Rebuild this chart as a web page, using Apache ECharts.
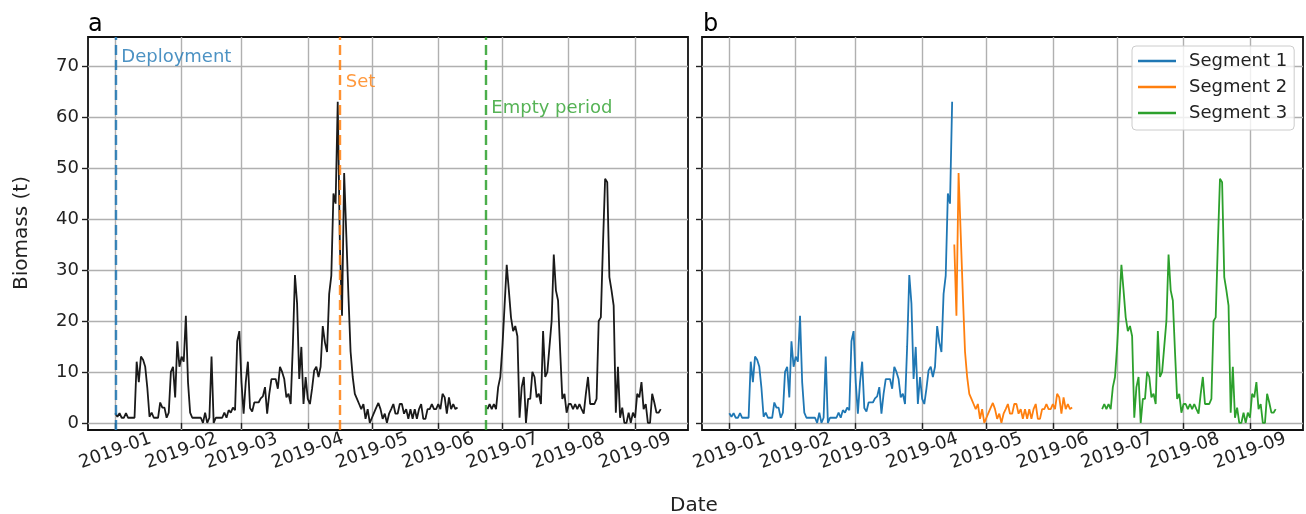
<!DOCTYPE html>
<html><head><meta charset="utf-8">
<script src="https://cdn.jsdelivr.net/npm/echarts@6/dist/echarts.min.js"></script>
<style>html,body{margin:0;padding:0;background:#fff}#c{width:1306px;height:514px}</style>
</head><body><div id="c"></div>
<script>
// ---- data ----
const xTickLabels = ['2019-01','2019-02','2019-03','2019-04','2019-05','2019-06','2019-07','2019-08','2019-09'];
const yTicks = [0,10,20,30,40,50,60,70];
const segmentNames = ['Segment 1','Segment 2','Segment 3'];
const seg1Start = '2019-01-01';
const seg1Values = [
  1.9,1.2,1.9,1,1,1.9,1,1,1,1,
  12,8,13,12.4,11,6.8,1.2,2,1,1,
  1,4,3,3,1,2,10,11,5,16,
  11,13,12,21,8,2,1,1,1,1,
  1,0,2,0,1,13,0,1,1,1,
  1,2,1,2.5,2,3,2.5,16,18,8,
  1.8,8,12,2.9,2.2,4,4,4,4.8,5.2,
  7,1.8,5.7,8.6,8.6,8.6,6.7,11,10,8.6,
  5,5.7,3.7,15,29,23.4,8.6,14.9,3.7,9,
  4.7,3.7,6.7,10.3,11,9,11,19,15.8,13.9,
  25.3,28.9,45,43,63
];
const seg2Start = '2019-04-16';
const seg2Values = [
  35,21,49,37,25,14,9,5.7,4.7,3.7,
  2.7,3.7,0.8,2.7,0,1,2,3,3.9,2.7,
  0.8,1.8,0,1.8,2.7,3.7,1.8,1.8,3.7,3.7,
  1.8,2.7,0.8,2.7,0.8,2.7,0.8,2.7,3.7,0.8,
  0.8,2.7,2.7,3.7,2.7,2.7,3.7,2.7,5.7,5,
  1.8,5,2.7,3.7,2.7,3
];
const seg3Start = '2019-06-24';
const seg3Values = [
  2.7,3.7,2.7,3.7,2.7,7,9,15,23,31,
  26,20.7,18,19,17,1,7,9,0,4.7,
  4.7,10,9,5,5.7,3.7,18,9,10,15,
  20,33,26,24,14,4.7,5.7,2,3.7,3.7,
  2.7,3.7,2.7,3.7,2.7,1.8,5.7,9,3.7,3.7,
  3.7,4.7,20,20.7,35,47.9,47.2,28.6,26,23,
  2,11,1,3,0,0,2,0,2,1,
  5.7,5,8,2.7,3.7,0,0,5.7,4,2,
  2,2.7
];
const eventNames = ['Deployment','Set','Empty period'];
const eventDates = ['2019-01-01','2019-04-16','2019-06-23'];
const eventLabelY = [70,65,60];

// ---- build ----
const DAY = 86400000;
const ts = s => { const p = s.split('-').map(Number); return Date.UTC(p[0], p[1]-1, p[2]||1); };
const build = (start, vals) => vals.map((v,i) => [ts(start) + i*DAY, v]);
const s1 = build(seg1Start, seg1Values), s2 = build(seg2Start, seg2Values), s3 = build(seg3Start, seg3Values);
const allData = s1.concat(s2, [[s2[s2.length-1][0] + DAY, '-']], s3);
const first = s1[0][0], last = s3[s3.length-1][0], pad = 0.05*(last-first);
const xMin = first - pad, xMax = last + pad;
const xTickValues = xTickLabels.map(s => ts(s));
const fmtX = v => { const i = xTickValues.indexOf(v); return i >= 0 ? xTickLabels[i] : ''; };
const colors = ['#1f77b4','#ff7f0e','#2ca02c'];
const FONT = 'DejaVu Sans';
const TXT = '#222222';

function mkX(gi){
  return {
    type:'value', gridIndex:gi, min:xMin, max:xMax,
    axisLine:{show:false},
    axisTick:{show:true, length:6, lineStyle:{color:TXT, width:1.4}, customValues:xTickValues},
    axisLabel:{customValues:xTickValues, formatter:fmtX, rotate:20, align:'center', verticalAlign:'middle',
      margin:21, fontSize:18, color:TXT, fontFamily:FONT},
    splitLine:{show:true, lineStyle:{color:'#b0b0b0', width:1.4}}
  };
}
function mkY(gi, labels){
  return {
    type:'value', gridIndex:gi, min:-1.4, max:75.7, splitNumber:8,
    axisLine:{show:false},
    axisTick:{show:true, length:6, lineStyle:{color:TXT, width:1.4}, customValues:yTicks},
    axisLabel:{show:labels, customValues:yTicks, margin:9, fontSize:18, color:TXT, fontFamily:FONT},
    splitLine:{show:true, lineStyle:{color:'#b0b0b0', width:1.4}}
  };
}
const gridBase = {show:true, borderColor:'#111111', borderWidth:1.8, top:37, height:393, containLabel:false};

const option = {
  animation:false,
  textStyle:{fontFamily:FONT},
  grid:[Object.assign({left:88, width:600}, gridBase), Object.assign({left:702, width:601}, gridBase)],
  xAxis:[mkX(0), mkX(1)],
  yAxis:[mkY(0,true), mkY(1,false)],
  legend:{
    data:segmentNames, orient:'vertical', left:1132, top:46, padding:[5,7,7,6], itemGap:6,
    itemWidth:38, itemHeight:2.5, icon:'rect', borderColor:'#cccccc', borderWidth:1, borderRadius:4,
    backgroundColor:'rgba(255,255,255,0.8)',
    textStyle:{fontSize:18, fontFamily:FONT, color:TXT, lineHeight:20, padding:[0,0,0,8]}
  },
  graphic:[
    {type:'text', x:88, y:37, style:{text:'a', fontSize:24, fontFamily:FONT, fill:'#000', verticalAlign:'bottom'}},
    {type:'text', x:703, y:37, style:{text:'b', fontSize:24, fontFamily:FONT, fill:'#000', verticalAlign:'bottom'}},
    {type:'text', x:694, y:516, style:{text:'Date', fontSize:20, fontFamily:FONT, fill:TXT, align:'center', verticalAlign:'bottom'}},
    {type:'text', x:22, y:233, rotation:Math.PI/2, style:{text:'Biomass (t)', fontSize:20, fontFamily:FONT, fill:TXT, align:'center', verticalAlign:'middle'}}
  ],
  series:[
    {name:'all', type:'line', xAxisIndex:0, yAxisIndex:0, data:allData, showSymbol:false, symbol:'none',
      connectNulls:false, lineStyle:{color:'#1a1a1a', width:1.8}, itemStyle:{color:'#1a1a1a'}, z:2,
      markLine:{symbol:['none','none'], silent:true, label:{show:false}, animation:false,
        data:eventDates.map((d,i)=>({xAxis:ts(d), lineStyle:{color:colors[i], type:[10,5], width:2.4, opacity:0.85}}))}
    },
    {name:'events', type:'scatter', xAxisIndex:0, yAxisIndex:0, symbolSize:0, silent:true,
      data:eventDates.map((d,i)=>({value:[ts(d), eventLabelY[i]], label:{color:colors[i]}})),
      label:{show:true, position:[6,0], align:'left', verticalAlign:'bottom', fontSize:18, fontFamily:FONT,
        formatter:p=>eventNames[p.dataIndex]}
    },
    {name:segmentNames[0], type:'line', xAxisIndex:1, yAxisIndex:1, data:s1, showSymbol:false, symbol:'none', color:colors[0], lineStyle:{width:1.8}},
    {name:segmentNames[1], type:'line', xAxisIndex:1, yAxisIndex:1, data:s2, showSymbol:false, symbol:'none', color:colors[1], lineStyle:{width:1.8}},
    {name:segmentNames[2], type:'line', xAxisIndex:1, yAxisIndex:1, data:s3, showSymbol:false, symbol:'none', color:colors[2], lineStyle:{width:1.8}}
  ]
};
const chart = echarts.init(document.getElementById('c'), null, {renderer:'canvas'});
chart.setOption(option);
</script></body></html>
